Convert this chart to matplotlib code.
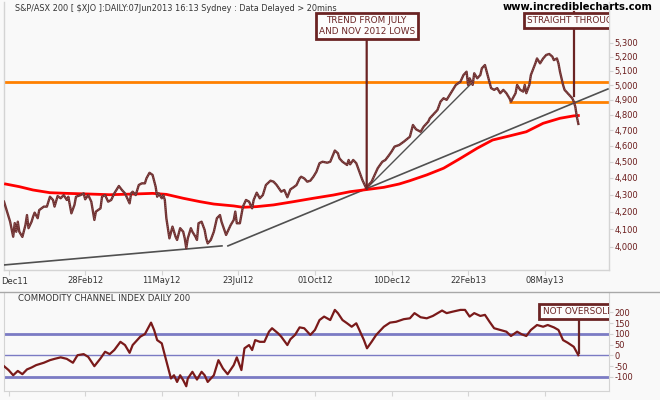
import numpy as np
import matplotlib
matplotlib.use("Agg")
import matplotlib.pyplot as plt
from matplotlib.lines import Line2D
from matplotlib.ticker import FixedLocator, NullLocator

# bar number (trading days since the start of the chart) and close
price_bar = [0, 4, 6, 7, 8, 9, 10, 12, 14, 15, 16, 18, 19, 20, 22, 23, 26, 28, 30, 32,
             33, 35, 37, 39, 41, 42, 44, 46, 47, 50, 52, 53, 55, 57, 59, 60, 63, 64, 66, 68,
             70, 72, 75, 77, 79, 80, 82, 83, 84, 86, 88, 90, 92, 93, 95, 97, 99, 100, 101, 103,
             104, 105, 106, 107, 108, 110, 112, 113, 115, 117, 118, 119, 120, 122, 123, 125, 126, 127, 129, 131,
             132, 133, 135, 137, 139, 140, 141, 142, 145, 148, 150, 151, 152, 154, 156, 158, 160, 162, 163, 165,
             167, 169, 171, 174, 176, 178, 181, 183, 185, 187, 189, 191, 193, 194, 196, 198, 200, 202, 204, 206,
             208, 211, 213, 216, 218, 219, 221, 224, 225, 226, 228, 230, 232, 234, 236, 237, 238, 240, 242, 244,
             247, 249, 251, 253, 255, 258, 261, 263, 265, 267, 269, 272, 274, 277, 278, 280, 283, 285, 287, 289,
             291, 293, 295, 298, 300, 302, 303, 304, 306, 307, 309, 311, 312, 314, 316, 318, 320, 322, 324, 326,
             328, 330, 331, 334, 335, 337, 339, 340, 341, 343, 344, 347, 348, 350, 352, 354, 356, 358, 359, 361,
             362, 363, 365, 366, 368, 371, 372, 373, 374, 375]
price_close = [4258, 4142, 4057, 4134, 4085, 4142, 4085, 4056, 4123, 4180, 4105, 4142, 4171, 4194, 4162, 4209, 4229, 4229, 4287, 4268,
               4229, 4291, 4278, 4297, 4268, 4287, 4190, 4239, 4287, 4297, 4307, 4272, 4297, 4258, 4152, 4200, 4219, 4287, 4297, 4258,
               4268, 4307, 4351, 4327, 4307, 4287, 4248, 4307, 4317, 4297, 4357, 4367, 4367, 4397, 4431, 4418, 4347, 4287, 4307, 4278,
               4297, 4268, 4162, 4105, 4048, 4114, 4057, 4039, 4105, 4085, 4048, 3993, 4048, 4105, 4085, 4057, 4039, 4133, 4142, 4095,
               4048, 4020, 4039, 4085, 4162, 4171, 4180, 4142, 4067, 4123, 4152, 4200, 4133, 4133, 4229, 4268, 4258, 4219, 4268, 4311,
               4278, 4297, 4357, 4383, 4377, 4357, 4317, 4327, 4284, 4331, 4343, 4357, 4397, 4407, 4397, 4377, 4383, 4407, 4438, 4490,
               4499, 4493, 4499, 4569, 4552, 4520, 4499, 4479, 4510, 4483, 4510, 4490, 4438, 4387, 4347, 4333, 4357, 4377, 4418, 4459,
               4499, 4510, 4535, 4562, 4594, 4604, 4625, 4641, 4657, 4733, 4705, 4689, 4722, 4755, 4777, 4799, 4832, 4888, 4911, 4900,
               4934, 4968, 5002, 5024, 5071, 5094, 5002, 5048, 5002, 5083, 5048, 5071, 5118, 5141, 5059, 4980, 4968, 4980, 4945, 4968,
               4945, 4911, 4888, 4945, 5002, 4968, 4956, 5002, 4945, 5002, 5071, 5155, 5188, 5153, 5188, 5213, 5220, 5201, 5176, 5188,
               5153, 5094, 5002, 4968, 4945, 4911, 4888, 4854, 4787, 4740]

# 200 day moving average
ma_bar = [1, 10, 19, 30, 41, 56, 69, 84, 97, 106, 117, 128, 137, 150, 156, 165, 176, 189, 202, 215,
          226, 237, 248, 258, 265, 276, 287, 298, 309, 319, 330, 341, 352, 363, 372, 375]
ma_val = [4363, 4347, 4327, 4311, 4307, 4303, 4299, 4303, 4307, 4301, 4278, 4258, 4244, 4233, 4225, 4229, 4239, 4258, 4278, 4297,
          4317, 4330, 4343, 4363, 4383, 4418, 4459, 4520, 4584, 4636, 4662, 4689, 4744, 4777, 4793, 4795]

# CCI 200
cci_bar = [0, 3, 6, 9, 12, 15, 18, 21, 26, 30, 33, 37, 41, 45, 48, 52, 55, 59, 63, 66,
           69, 72, 76, 79, 82, 84, 89, 92, 96, 98, 100, 103, 105, 107, 109, 111, 113, 115, 117, 119,
           120, 123, 126, 129, 131, 133, 137, 140, 143, 146, 150, 152, 155, 157, 160, 162, 164, 167, 170, 173,
           175, 179, 181, 185, 187, 190, 193, 196, 200, 203, 206, 209, 213, 216, 218, 221, 224, 227, 230, 232,
           235, 237, 240, 243, 248, 252, 256, 261, 265, 268, 272, 276, 280, 286, 289, 293, 298, 301, 304, 307,
           311, 314, 317, 320, 324, 328, 331, 335, 338, 341, 344, 348, 352, 355, 359, 362, 365, 368, 372, 375]
cci_val = [-50, -68, -92, -72, -87, -65, -56, -45, -34, -22, -16, -9, -16, -34, 1, 6, -7, -50, -14, 17,
           6, 25, 63, 48, 12, 48, 87, 99, 152, 118, 71, 56, 1, -53, -107, -92, -123, -92, -115, -143,
           -107, -76, -112, -76, -92, -123, -92, -22, -61, -87, -45, -9, -68, 33, 48, 25, 71, 63, 63, 110,
           126, 102, 87, 48, 75, 95, 130, 126, 95, 118, 164, 180, 164, 211, 196, 164, 149, 133, 149, 118,
           71, 33, 63, 95, 133, 152, 156, 168, 172, 196, 177, 172, 183, 208, 196, 203, 211, 211, 180, 196,
           183, 188, 156, 126, 118, 110, 90, 110, 98, 90, 118, 141, 133, 141, 130, 118, 71, 59, 40, 1]

tick_bar = [3, 53, 103, 153, 203, 253, 303, 353]
tick_lab = ["Dec11", "28Feb12", "11May12", "23Jul12", "01Oct12", "10Dec12", "22Feb13", "08May13"]
price_ticks = list(range(4000, 5301, 100))
cci_ticks = [200, 150, 100, 50, 0, -50, -100]

resist = 5024
support = 4885

bg = "#f9f9f9"
maroon = "#6b2424"
grid_c = "#d4d4d4"
lab_c = "#6a1c1c"

plt.rcParams["font.family"] = ["DejaVu Sans"]

fig = plt.figure(figsize=(6.6, 4.0), dpi=100, facecolor=bg)
ax = fig.add_axes([4 / 660, 130 / 400, 605 / 660, 268 / 400], facecolor=bg)
ax2 = fig.add_axes([4 / 660, 9 / 400, 605 / 660, 99 / 400], facecolor=bg)

# ---------------- price panel ----------------
ax.set_yscale("log")
ax.set_xlim(0, 395)
ax.set_ylim(3875, 5608)

ax.axhline(resist, color="#ff8000", lw=2, zorder=2)
ax.hlines(support, 330, 395, color="#ff8000", lw=2, zorder=2)

# trend lines
ax.plot([0, 142.3], [3902, 4006], color="#505050", lw=1.2, zorder=3)
ax.plot([146.2, 394.3], [4006, 4974], color="#505050", lw=1.2, zorder=3)
ax.plot([236.7, 306.1], [4336, 5022], color="#505050", lw=1.0, zorder=3)

ax.plot(ma_bar, ma_val, color="#ff0000", lw=2, zorder=4)
ax.plot(price_bar, price_close, color="#6d2f2f", lw=1.7, zorder=5)
ax.plot(price_bar, price_close, color="#a77070", lw=0.5, ls=(0, (1, 2)), zorder=6)

box = dict(boxstyle="square,pad=0.35", fc="#fcfcfc", ec=maroon, lw=2)
ax.annotate("TREND FROM JULY\nAND NOV 2012 LOWS", xy=(236.8, 4336), xytext=(236.8, 0.911),
            textcoords=("data", "axes fraction"), ha="center", va="center",
            fontsize=6.4, color=maroon, linespacing=1.25, bbox=box, zorder=8,
            arrowprops=dict(arrowstyle="-", color=maroon, lw=1.6, shrinkA=0, shrinkB=0))
ax.text(341.4, 0.931, "STRAIGHT THROUGH", transform=ax.get_xaxis_transform(),
        ha="left", va="center", fontsize=6.4, color=maroon, bbox=box, zorder=8, clip_on=True)
ax.plot([372, 372], [4926, 5530], color=maroon, lw=1.6, zorder=7)

ax.yaxis.tick_right()
ax.yaxis.set_major_locator(FixedLocator(price_ticks))
ax.yaxis.set_minor_locator(NullLocator())
ax.set_yticklabels([f"{v:,}" for v in price_ticks])
ax.set_xticks(tick_bar)
ax.set_xticklabels([""] + tick_lab[1:])
ax.tick_params(axis="y", which="both", direction="out", length=3, pad=1, color=grid_c,
               labelcolor=lab_c, labelsize=6)
ax.tick_params(axis="x", direction="out", length=3.6, pad=0.5, color=grid_c,
               labelcolor="#333333", labelsize=6)
for s in ["left", "right", "bottom"]:
    ax.spines[s].set_color(grid_c)
    ax.spines[s].set_linewidth(1)
ax.spines["top"].set_visible(False)

# first date label sits against the left edge
fig.text(1 / 660, 1 - 281 / 400, tick_lab[0], fontsize=6, color="#333333", ha="left", va="center")

ax.text(11 / 605, 0.975, "S&P/ASX 200 [ $XJO ]:DAILY:07Jun2013 16:13 Sydney : Data Delayed > 20mins",
        transform=ax.transAxes, fontsize=5.9, color="#333333", va="center", ha="left")
fig.text(503 / 660, 1 - 7.5 / 400, "www.incrediblecharts.com", fontsize=7.2, weight="bold",
         color="black", va="center", ha="left")

# ---------------- CCI panel ----------------
ax2.set_xlim(0, 395)
ax2.set_ylim(-165, 294)
ax2.axhline(100, color="#7b7bc4", lw=2, zorder=2)
ax2.axhline(-100, color="#7b7bc4", lw=2, zorder=2)
ax2.axhline(0, color="#7b7bc4", lw=1, zorder=2)
ax2.plot(cci_bar, cci_val, color="#7a1a1a", lw=1.6, zorder=4)

ax2.text(351.6, 203, "NOT OVERSOLD", ha="left", va="center", fontsize=6.4, color=maroon,
         bbox=box, zorder=8, clip_on=True)
ax2.plot([375.1, 375.1], [10, 169], color=maroon, lw=1.6, zorder=7)

ax2.text(14 / 605, 0.93, "COMMODITY CHANNEL INDEX DAILY 200", transform=ax2.transAxes,
         fontsize=6.1, color="#333333", va="center", ha="left")

ax2.yaxis.tick_right()
ax2.set_yticks(cci_ticks)
ax2.set_yticklabels([str(v) for v in cci_ticks])
ax2.set_xticks(tick_bar)
ax2.set_xticklabels([])
ax2.tick_params(axis="y", direction="out", length=3, pad=1, color=grid_c,
                labelcolor=lab_c, labelsize=6)
ax2.tick_params(axis="x", direction="out", length=3.6, color=grid_c)
for s in ["left", "right", "bottom"]:
    ax2.spines[s].set_color(grid_c)
ax2.spines["top"].set_visible(False)

fig.add_artist(Line2D([0, 1], [1 - 292 / 400, 1 - 292 / 400], transform=fig.transFigure,
                      color="#a8a8a8", lw=1))

fig.savefig("out.png", dpi=100, facecolor=bg)
